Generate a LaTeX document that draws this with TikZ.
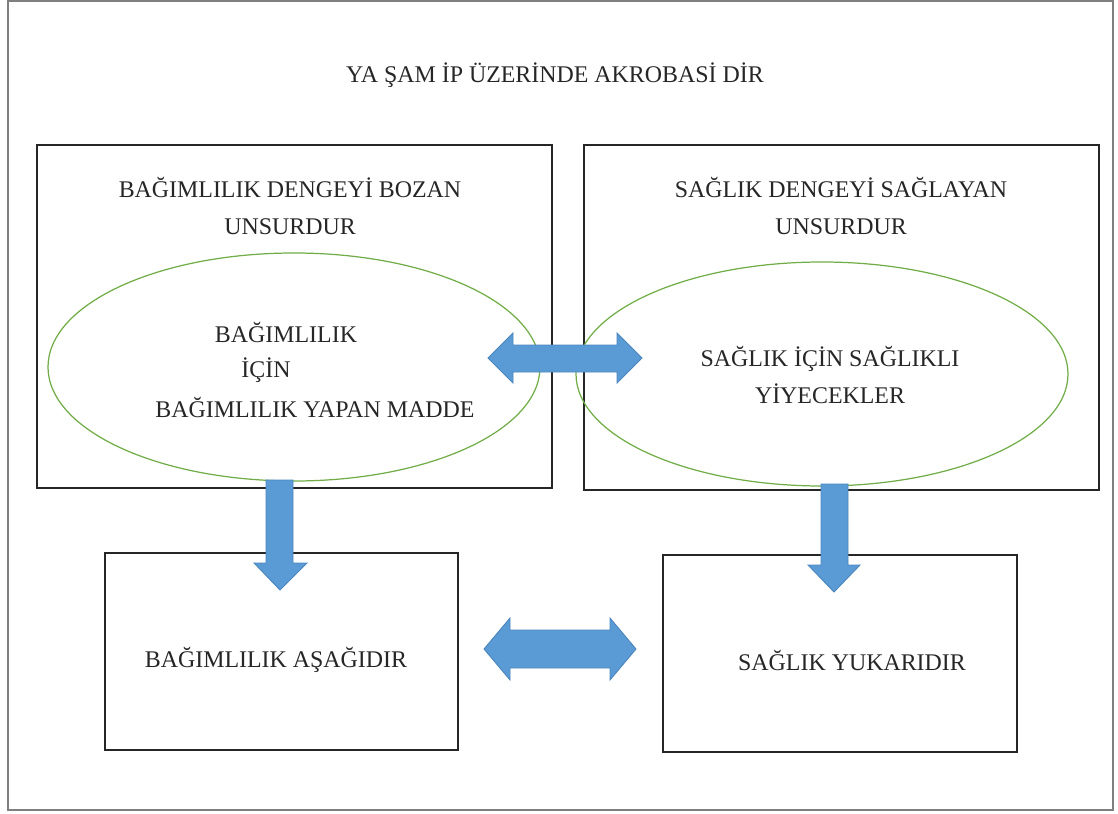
\documentclass[tikz,border=0pt]{standalone}
\usepackage{fontspec}
\setmainfont{Liberation Serif}

\definecolor{Frame}{HTML}{7F7F7F}
\definecolor{Ring}{HTML}{70AD47}
\definecolor{Arrow}{HTML}{5B9BD5}
\definecolor{ArrowEdge}{HTML}{4A85BD}

\begin{document}
\begin{tikzpicture}[x={(0.02cm,0cm)}, y={(0cm,-0.02cm)},
  lbl/.style={font=\fontsize{13.6}{20.8}\selectfont, text=black!85, inner sep=0pt, align=center},
  box/.style={draw=black!85, line width=1pt},
  ring/.style={draw=Ring, line width=0.7pt},
  blockarrow/.style={fill=Arrow, draw=ArrowEdge, line width=0.5pt}]

 \useasboundingbox (0,0) rectangle (1118,814);

  %%%%%%%%%% Points pour travailler %%%%%%%%%%
 \coordinate (cTL) at (294,367);
 \coordinate (cTR) at (822,374);

 %%%%%%%%%% Outer frame %%%%%%%%%%
 \draw [color=Frame, line width=0.6pt] (8,1) rectangle (1113,810);

 %%%%%%%%%% Boxes %%%%%%%%%%
 \draw [box] (37,145) rectangle (552,488);
 \draw [box] (584,145) rectangle (1099,490);
 \draw [box] (105,553) rectangle (458,750);
 \draw [box] (663,555) rectangle (1017,752);

 %%%%%%%%%% Ellipses %%%%%%%%%%
 \draw [ring] (cTL) ellipse [x radius=246, y radius=114];
 \draw [ring] (cTR) ellipse [x radius=246, y radius=112];

 %%%%%%%%%%% Block arrows %%%%%%%%%%%
 \draw [blockarrow] (488,358) -- (513,333) -- (513,345) -- (617,345) -- (617,333) -- (642,358)
   -- (617,383) -- (617,372) -- (513,372) -- (513,383) -- cycle ;
 \draw [blockarrow] (484,649) -- (510,618) -- (510,630) -- (610,630) -- (610,618) -- (636,649)
   -- (610,680) -- (610,668) -- (510,668) -- (510,680) -- cycle ;
 \draw [blockarrow] (266,480) -- (293,480) -- (293,563) -- (307,563) -- (280,590) -- (254,563)
   -- (266,563) -- cycle ;
 \draw [blockarrow] (821,484) -- (848,484) -- (848,565) -- (860,565) -- (834,592) -- (808,565)
   -- (821,565) -- cycle ;

 %%%%%%%%%%% Texts %%%%%%%%%%%
 \node [lbl] (title) at (555,75) {YA ŞAM İP ÜZERİNDE AKROBASİ DİR};

 \node [lbl] (leftHead) at (290,206) {BAĞIMLILIK DENGEYİ BOZAN\\UNSURDUR};
 \node [lbl] (leftA) at (286,333) {BAĞIMLILIK};
 \node [lbl] (leftB) at (266,370) {İÇİN};
 \node [lbl] (leftC) at (315,408) {BAĞIMLILIK YAPAN MADDE};

 \node [lbl] (rightHead) at (841,206) {SAĞLIK DENGEYİ SAĞLAYAN\\UNSURDUR};
 \node [lbl] (rightIn) at (830,375) {SAĞLIK İÇİN SAĞLIKLI\\YİYECEKLER};

 \node [lbl] (down) at (276,660) {BAĞIMLILIK AŞAĞIDIR};
 \node [lbl] (up) at (852,660) {SAĞLIK YUKARIDIR};

\end{tikzpicture}
\end{document}
